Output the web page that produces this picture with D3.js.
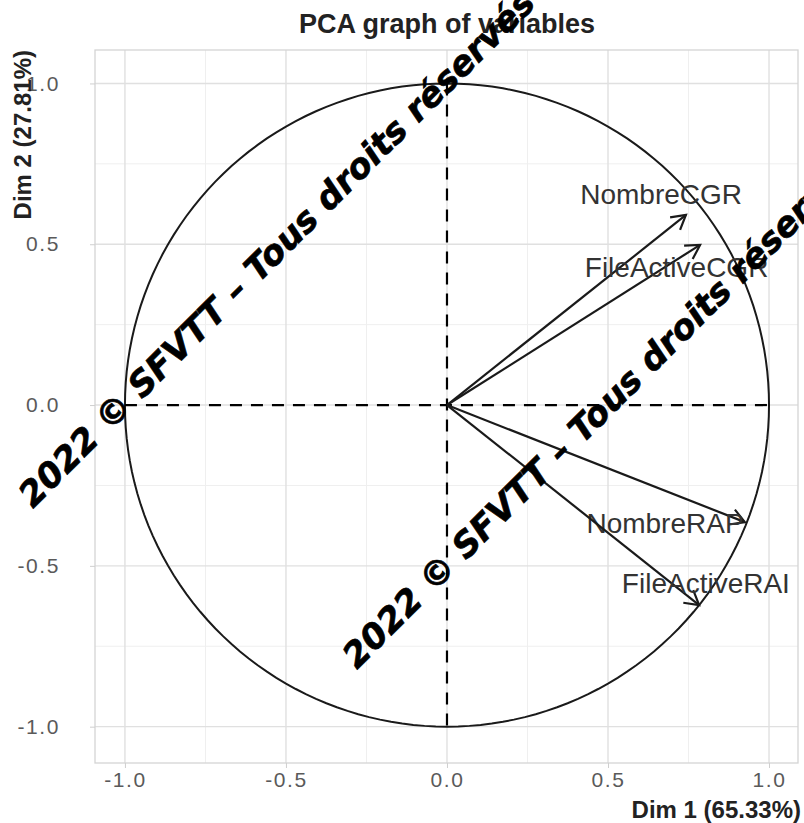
<!DOCTYPE html>
<html><head><meta charset="utf-8">
<script src="https://cdn.jsdelivr.net/npm/d3@7"></script>
<style>body{margin:0;background:#fff}</style>
</head><body>
<svg id="chart" width="804" height="823"></svg>
<script>
const variables = ["NombreCGR","FileActiveCGR","NombreRAP","FileActiveRAI"];
const dim1 = [0.742, 0.786, 0.925, 0.783];
const dim2 = [0.591, 0.498, -0.364, -0.622];
const labelX = [0.665, 0.713, 0.677, 0.804];
const labelY = [0.656, 0.427, -0.367, -0.556];
const ticks = [-1.0, -0.5, 0.0, 0.5, 1.0];
const minorTicks = [-0.75, -0.25, 0.25, 0.75];
const title = "PCA graph of variables";
const xTitle = "Dim 1 (65.33%)";
const yTitle = "Dim 2 (27.81%)";
const watermark = "2022 © SFVTT – Tous droits réservés –";

const svg = d3.select("#chart");
const L = 95, R = 798, T = 50, B = 763;
const x = d3.scaleLinear().domain([-1.093, 1.09]).range([L, R]);
const y = d3.scaleLinear().domain([-1.113, 1.104]).range([B, T]);
const FONT = "Liberation Sans, Arial, sans-serif";

const g = svg.append("g");
g.selectAll(".mx").data(minorTicks).join("line")
  .attr("x1", d => x(d)).attr("x2", d => x(d)).attr("y1", T).attr("y2", B)
  .attr("stroke", "#efefef").attr("stroke-width", 1);
g.selectAll(".my").data(minorTicks).join("line")
  .attr("y1", d => y(d)).attr("y2", d => y(d)).attr("x1", L).attr("x2", R)
  .attr("stroke", "#efefef").attr("stroke-width", 1);
g.selectAll(".gx").data(ticks).join("line")
  .attr("x1", d => x(d)).attr("x2", d => x(d)).attr("y1", T).attr("y2", B)
  .attr("stroke", "#e0e0e0").attr("stroke-width", 1.4);
g.selectAll(".gy").data(ticks).join("line")
  .attr("y1", d => y(d)).attr("y2", d => y(d)).attr("x1", L).attr("x2", R)
  .attr("stroke", "#e0e0e0").attr("stroke-width", 1.4);
g.append("rect").attr("x", L).attr("y", T).attr("width", R - L).attr("height", B - T)
  .attr("fill", "none").attr("stroke", "#d4d4d4").attr("stroke-width", 1.3);

const fmt = d => d.toFixed(1);
const xAxis = d3.axisBottom(x).tickValues(ticks).tickFormat(fmt).tickSize(5).tickPadding(4);
const ax = svg.append("g").attr("transform", `translate(0,${B})`).call(xAxis);
const yAxis = d3.axisLeft(y).tickValues(ticks).tickFormat(fmt).tickSize(5).tickPadding(30);
const ay = svg.append("g").attr("transform", `translate(${L},0)`).call(yAxis);
[ax, ay].forEach(a => {
  a.select(".domain").remove();
  a.selectAll(".tick line").attr("stroke", "#cfcfcf");
  a.selectAll(".tick text").attr("fill", "#5a5a5a").attr("font-size", 21)
    .attr("letter-spacing", 1.6).attr("font-family", FONT);
});

const circ = d3.range(0, 361, 2).map(a => [Math.cos(a * Math.PI / 180), Math.sin(a * Math.PI / 180)]);
svg.append("path").attr("d", d3.line().x(d => x(d[0])).y(d => y(d[1]))(circ))
  .attr("fill", "none").attr("stroke", "#1a1a1a").attr("stroke-width", 2);

svg.append("line").attr("x1", x(-1)).attr("x2", x(1)).attr("y1", y(0)).attr("y2", y(0))
  .attr("stroke", "#000").attr("stroke-width", 2.2).attr("stroke-dasharray", "12,9");
svg.append("line").attr("x1", x(0)).attr("x2", x(0)).attr("y1", y(1)).attr("y2", y(-1))
  .attr("stroke", "#000").attr("stroke-width", 2.2).attr("stroke-dasharray", "12,9");

const ag = svg.append("g");
variables.forEach((v, i) => {
  const x0 = x(0), y0 = y(0), x1 = x(dim1[i]), y1 = y(dim2[i]);
  const ang = Math.atan2(y1 - y0, x1 - x0);
  const hl = 16, ha = Math.PI / 6;
  ag.append("line").attr("x1", x0).attr("y1", y0).attr("x2", x1).attr("y2", y1)
    .attr("stroke", "#1a1a1a").attr("stroke-width", 2.2);
  const p1 = [x1 - hl * Math.cos(ang - ha), y1 - hl * Math.sin(ang - ha)];
  const p2 = [x1 - hl * Math.cos(ang + ha), y1 - hl * Math.sin(ang + ha)];
  ag.append("path").attr("d", `M${p1[0]},${p1[1]}L${x1},${y1}L${p2[0]},${p2[1]}`)
    .attr("fill", "none").attr("stroke", "#1a1a1a").attr("stroke-width", 2.2);
  ag.append("text").attr("x", x(labelX[i])).attr("y", y(labelY[i]))
    .attr("text-anchor", "middle").attr("dominant-baseline", "central")
    .attr("font-family", FONT).attr("font-size", 28)
    .attr("fill", "#333").text(v);
});

svg.append("text").attr("x", 447).attr("y", 33).attr("text-anchor", "middle")
  .attr("font-family", FONT).attr("font-weight", "bold")
  .attr("font-size", 27).attr("fill", "#222").text(title);
svg.append("text").attr("x", 801).attr("y", 818).attr("text-anchor", "end")
  .attr("font-family", FONT).attr("font-weight", "bold")
  .attr("font-size", 24).attr("fill", "#222").text(xTitle);
svg.append("text").attr("transform", "translate(31,50) rotate(-90)").attr("text-anchor", "end")
  .attr("font-family", FONT).attr("font-weight", "bold")
  .attr("font-size", 24).attr("fill", "#222").text(yTitle);

const wmPos = [[33, 509], [357, 670]];
wmPos.forEach(p => {
  svg.append("text").attr("transform", `translate(${p[0]},${p[1]}) rotate(-45)`)
    .attr("font-family", "DejaVu Sans, sans-serif").attr("font-weight", "bold")
    .attr("font-style", "italic").attr("font-size", 34.5).attr("fill", "#000")
    .attr("stroke", "#000").attr("stroke-width", 0.7).text(watermark);
});
</script>
</body></html>
